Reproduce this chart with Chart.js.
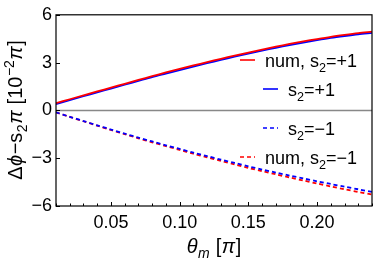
<!DOCTYPE html>
<html><head><meta charset="utf-8">
<script src="https://cdn.jsdelivr.net/npm/chart.js@4"></script>
<style>html,body{margin:0;padding:0;background:#fff}canvas{display:block}</style>
</head><body>
<canvas id="c" width="374" height="258"></canvas>
<script>
const thetaM   = [0.01,0.02,0.03,0.04,0.05,0.06,0.07,0.08,0.09,0.10,0.11,0.12,0.13,0.14,0.15,0.16,0.17,0.18,0.19,0.20,0.21,0.22,0.23,0.24];
const numPlus  = [0.45,0.70,0.95,1.19,1.43,1.67,1.91,2.15,2.38,2.60,2.82,3.03,3.24,3.44,3.63,3.82,4.00,4.17,4.33,4.48,4.62,4.74,4.85,4.94];
const anaPlus  = [0.40,0.65,0.89,1.13,1.37,1.61,1.85,2.09,2.31,2.53,2.75,2.96,3.17,3.37,3.56,3.75,3.93,4.10,4.26,4.41,4.55,4.67,4.78,4.87];
const anaMinus = [-0.12,-0.40,-0.67,-0.94,-1.20,-1.46,-1.71,-1.95,-2.19,-2.42,-2.65,-2.87,-3.09,-3.30,-3.51,-3.71,-3.90,-4.09,-4.27,-4.45,-4.62,-4.79,-4.95,-5.12];
const numMinus = [-0.12,-0.41,-0.68,-0.96,-1.23,-1.49,-1.75,-2.00,-2.24,-2.48,-2.72,-2.95,-3.17,-3.39,-3.61,-3.81,-4.01,-4.21,-4.40,-4.59,-4.77,-4.95,-5.12,-5.28];
const xTickLabels = [0.05,0.10,0.15,0.20];
const xMinorTicks = [0.01,0.02,0.03,0.04,0.05,0.06,0.07,0.08,0.09,0.10,0.11,0.12,0.13,0.14,0.15,0.16,0.17,0.18,0.19,0.20,0.21,0.22,0.23,0.24];
const yTickLabels = [-6,-3,0,3,6];
const legendItems = [
  {label:[{t:'num, s'},{t:'2',sub:1},{t:'=+1'}], color:'#ff0000', dash:[], indent:0},
  {label:[{t:'s'},{t:'2',sub:1},{t:'=+1'}], color:'#0000ff', dash:[], indent:1},
  {label:[{t:'s'},{t:'2',sub:1},{t:'=\u22121'}], color:'#0000ff', dash:[4,3], indent:1},
  {label:[{t:'num, s'},{t:'2',sub:1},{t:'=\u22121'}], color:'#ff0000', dash:[4,3], indent:0}
];
const yTitle = [{t:'\u0394'},{t:'\u03d5',i:1},{t:'\u2212s'},{t:'2',sub:1},{t:'\u03c0',i:1},{t:' [10'},{t:'\u22122',sup:1},{t:'\u03c0',i:1},{t:']'}];
const xTitle = [{t:'\u03b8',i:1},{t:'m',i:1,sub:1},{t:' ['},{t:'\u03c0',i:1},{t:']'}];

const FAM = '"Liberation Sans", Arial, sans-serif';
function segFont(s, size){
  const sz = (s.sub||s.sup) ? size*0.7 : size;
  return (s.i?'italic ':'') + sz + 'px ' + FAM;
}
function richWidth(ctx, segs, size, gap){
  let w=0; for(const s of segs){ctx.font=segFont(s,size); w+=ctx.measureText(s.t).width+(gap||0);} return w-(gap||0);
}
function drawRich(ctx, segs, x, y, size, gap){
  for(const s of segs){
    ctx.font=segFont(s,size);
    const dy = s.sub ? size*0.25 : (s.sup ? -size*0.4 : 0);
    ctx.fillText(s.t, x, y+dy);
    x += ctx.measureText(s.t).width+(gap||0);
  }
}

const decor = {
  id:'decor',
  beforeDatasetsDraw(chart){
    const {ctx, chartArea:a, scales:{x,y}} = chart;
    ctx.save();
    ctx.strokeStyle='#888'; ctx.lineWidth=1.5;
    const y0=y.getPixelForValue(0);
    ctx.beginPath(); ctx.moveTo(a.left,y0); ctx.lineTo(a.right,y0); ctx.stroke();
    ctx.restore();
  },
  afterDatasetsDraw(chart){
    const {ctx, chartArea:a, scales:{x,y}} = chart;
    ctx.save();
    ctx.strokeStyle='#000'; ctx.lineWidth=1.2;
    ctx.strokeRect(a.left, a.top, a.right-a.left, a.bottom-a.top);
    ctx.lineWidth=1;
    for(const v of xMinorTicks){
      const px=Math.round(x.getPixelForValue(v))+0.5;
      const major = xTickLabels.some(t=>Math.abs(t-v)<1e-9);
      ctx.beginPath(); ctx.moveTo(px,a.bottom); ctx.lineTo(px,a.bottom-(major?4:2.5)); ctx.stroke();
    }
    for(const v of yTickLabels){
      const py=Math.round(y.getPixelForValue(v))+0.5;
      ctx.beginPath(); ctx.moveTo(a.left,py); ctx.lineTo(a.left+4,py); ctx.stroke();
    }
    const rowsY=[60,89,128,157];
    ctx.fillStyle='#000'; ctx.textBaseline='alphabetic'; ctx.textAlign='left';
    legendItems.forEach((it,i)=>{
      const sx = it.indent ? 263 : 240;
      ctx.strokeStyle=it.color; ctx.lineWidth=1.6; ctx.setLineDash(it.dash);
      ctx.beginPath(); ctx.moveTo(sx,rowsY[i]); ctx.lineTo(sx+15,rowsY[i]); ctx.stroke();
      ctx.setLineDash([]);
      drawRich(ctx,it.label,sx+25,rowsY[i]+7,18,0);
    });
    const xw=richWidth(ctx,xTitle,20,0.5);
    drawRich(ctx,xTitle,(a.left+a.right)/2-xw/2,253,20,0.5);
    ctx.save();
    ctx.translate(22,110); ctx.rotate(-Math.PI/2);
    const yw=richWidth(ctx,yTitle,20,0.5);
    drawRich(ctx,yTitle,-yw/2,0,20,0.5);
    ctx.restore();
    ctx.restore();
  }
};

const mk = (vals)=>thetaM.map((t,i)=>({x:t,y:vals[i]}));
new Chart(document.getElementById('c'),{
  type:'line',
  data:{datasets:[
    {label:'num, s2=+1', data:mk(numPlus), borderColor:'#ff0000', borderWidth:1.8, pointRadius:0, tension:0.3, fill:false},
    {label:'s2=+1', data:mk(anaPlus), borderColor:'#0000ff', borderWidth:1.8, pointRadius:0, tension:0.3, fill:false},
    {label:'s2=-1', data:mk(anaMinus), borderColor:'#0000ff', borderWidth:1.8, borderDash:[4,3], pointRadius:0, tension:0.3, fill:false},
    {label:'num, s2=-1', data:mk(numMinus), borderColor:'#ff0000', borderWidth:1.8, borderDash:[4,3], pointRadius:0, tension:0.3, fill:false}
  ]},
  options:{
    responsive:false, animation:false, devicePixelRatio:1,
    layout:{padding:{top:10,right:2,left:0,bottom:0}},
    plugins:{legend:{display:false}, tooltip:{enabled:false}},
    scales:{
      x:{type:'linear', min:0.01, max:0.24,
        afterBuildTicks:s=>{s.ticks=xTickLabels.map(v=>({value:v}));},
        afterFit:s=>{s.height=52;},
        grid:{display:false, drawTicks:false}, border:{display:false},
        ticks:{padding:6, color:'#000', font:{family:FAM,size:18}, callback:v=>Number(v).toFixed(2), maxRotation:0, autoSkip:false}},
      y:{type:'linear', min:-6, max:6,
        afterBuildTicks:s=>{s.ticks=yTickLabels.map(v=>({value:v}));},
        afterFit:s=>{s.width=56;},
        grid:{display:false, drawTicks:false}, border:{display:false},
        ticks:{padding:4, color:'#000', font:{family:FAM,size:18}, callback:v=>v<0?'\u2212'+Math.abs(v):String(v)}}
    }
  },
  plugins:[decor]
});
</script>
</body></html>
